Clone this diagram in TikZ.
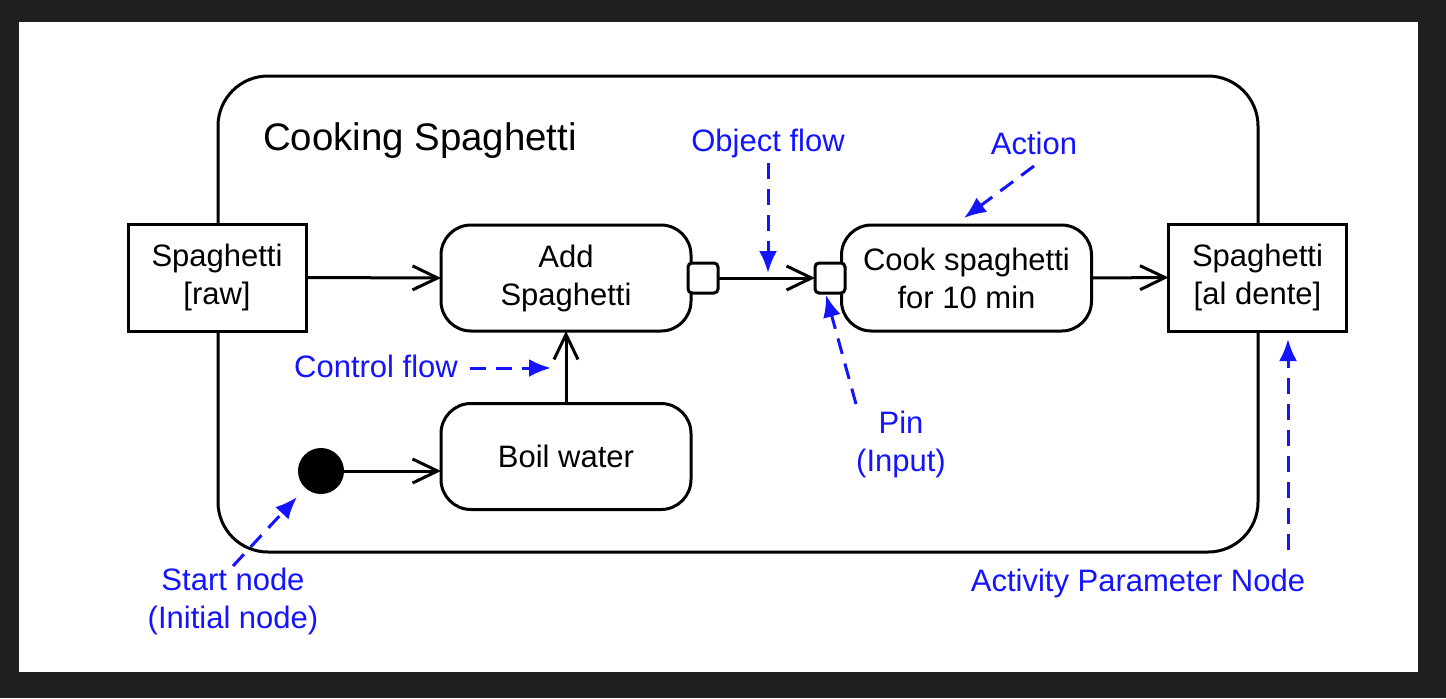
\documentclass[tikz,border=0pt]{standalone}
\usepackage{fontspec}
\setmainfont{Liberation Sans}
\usetikzlibrary{arrows.meta}
\definecolor{bgdark}{RGB}{31,31,31}
\definecolor{annot}{RGB}{20,20,255}
\begin{document}
\begin{tikzpicture}[x=0.5pt,y=-0.5pt,
  every node/.style={font=\fontsize{15.5}{19}\selectfont, inner sep=0pt, outer sep=0pt},
  objbox/.style={draw, line width=1.5pt, fill=white, minimum width=89pt, minimum height=53.5pt, align=center},
  actbox/.style={draw, line width=1.5pt, fill=white, rounded corners=15pt, minimum width=125pt, minimum height=53pt, align=center},
  pinbox/.style={draw, line width=1.5pt, fill=white, rounded corners=2pt, minimum width=15pt, minimum height=15pt},
  flow/.style={line width=1.5pt, -{Straight Barb[length=12.5pt,width=12pt,line width=1.5pt]}},
  note/.style={annot, line width=1.5pt, dash pattern=on 8pt off 5pt, -{Latex[length=11pt,width=9pt]}},
  notetext/.style={text=annot, align=center}]
\useasboundingbox (0,0) rectangle (1446,698);
\fill[bgdark] (0,0) rectangle (1446,698);
\fill[white] (19,22) rectangle (1418,672);
% activity frame
\node (frame) [draw, line width=1.5pt, rounded corners=25pt, minimum width=520pt, minimum height=238pt] at (738,314) {};
\node (title) [anchor=west, font=\fontsize{19.2}{23}\selectfont] at (263,141) {Cooking Spaghetti};
% nodes
\node (raw) [objbox] at (217,277.5) {Spaghetti\\{[raw]}};
\node (add) [actbox] at (566,278) {Add\\Spaghetti};
\node (boil) [actbox] at (566,456.5) {Boil water};
\node (cook) [actbox] at (966.5,278) {Cook spaghetti\\for 10 min};
\node (dente) [objbox] at (1257.5,277.5) {Spaghetti\\{[al dente]}};
\node (pout) [pinbox] at (703,278) {};
\node (pin) [pinbox] at (830,278) {};
\node (init) [circle, fill=black, minimum size=23pt] at (321,471) {};
% flows
\draw[flow] (raw.east) -- (add.west);
\draw[flow] (pout.east) -- (pin.west);
\draw[flow] (cook.east) -- (dente.west);
\draw[flow] (boil.north) -- (add.south);
\draw[flow] (init.east) -- (init.east -| boil.west);
% annotations
\node (tobj) [notetext] at (768,143) {Object flow};
\node (tact) [notetext] at (1034,143) {Action};
\node (tctl) [notetext] at (376,366) {Control flow};
\node (tpin) [notetext] at (901,444) {Pin\\(Input)};
\node (tapn) [notetext] at (1138,583) {Activity Parameter Node};
\node (tstart) [notetext] at (233,601) {Start node\\(Initial node)};
\coordinate (a1) at (768,163); \coordinate (b1) at (768,273);
\coordinate (a2) at (1034,166); \coordinate (b2) at (964,218);
\coordinate (a3) at (470,368); \coordinate (b3) at (551,368);
\coordinate (a4) at (856,404); \coordinate (b4) at (826,295);
\coordinate (a5) at (1288,550); \coordinate (b5) at (1288,339);
\coordinate (a6) at (233,566); \coordinate (b6) at (297,497);
\draw[note] (a1) -- (b1);
\draw[note] (a2) -- (b2);
\draw[note] (a3) -- (b3);
\draw[note] (a4) -- (b4);
\draw[note] (a5) -- (b5);
\draw[note] (a6) -- (b6);
\end{tikzpicture}
\end{document}
